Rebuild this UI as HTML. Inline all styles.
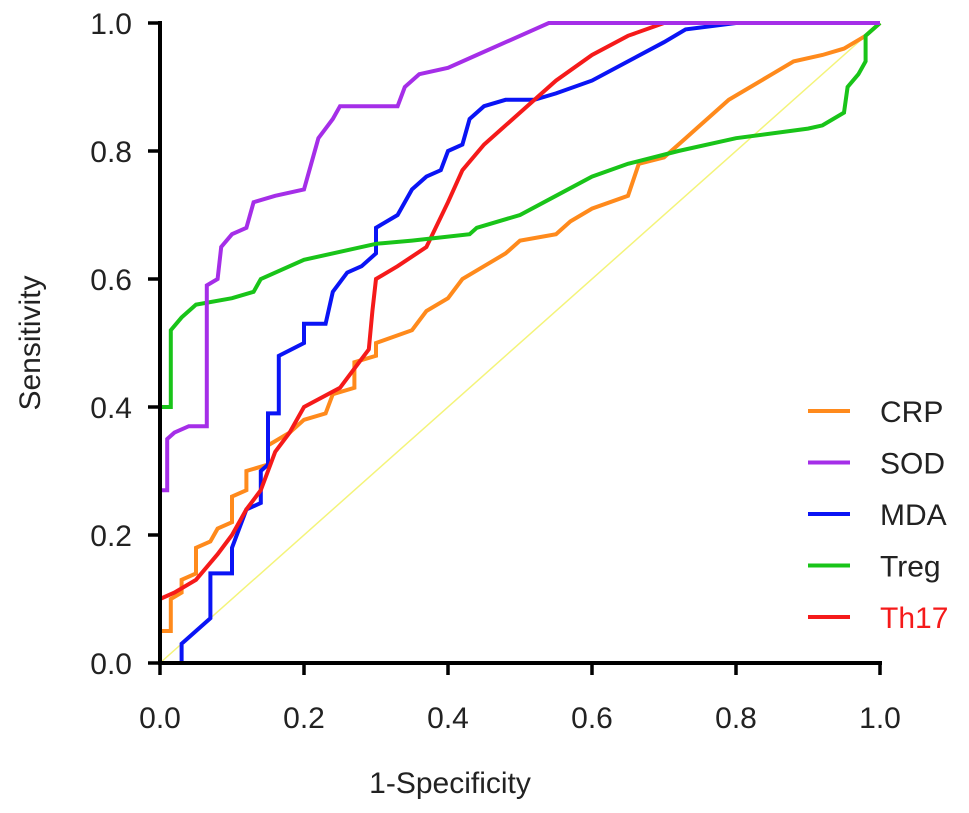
<!DOCTYPE html>
<html><head><meta charset="utf-8"><style>
html,body{margin:0;padding:0;background:#fff;}
svg{display:block;font-family:"Liberation Sans",Arial,sans-serif;}
</style></head><body>
<svg id="chart" width="969" height="813" viewBox="0 0 969 813"></svg>
<script>
const xTicks=[0,0.2,0.4,0.6,0.8,1.0];
const yTicks=[0,0.2,0.4,0.6,0.8,1.0];
const tickLabels=["0.0","0.2","0.4","0.6","0.8","1.0"];
const seriesNames=["CRP","SOD","MDA","Treg","Th17"];
const seriesColors=["#ff8a1c","#a52ee8","#0a14f5","#19c419","#f51a1a"];
const crpX=[0,0,0.015,0.015,0.03,0.03,0.05,0.05,0.07,0.08,0.1,0.1,0.12,0.12,0.15,0.15,0.18,0.2,0.23,0.24,0.27,0.27,0.3,0.3,0.35,0.37,0.4,0.42,0.45,0.48,0.5,0.55,0.57,0.6,0.65,0.665,0.7,0.73,0.76,0.79,0.82,0.85,0.88,0.92,0.95,0.98,1];
const crpY=[0,0.05,0.05,0.1,0.11,0.13,0.14,0.18,0.19,0.21,0.22,0.26,0.27,0.3,0.31,0.34,0.36,0.38,0.39,0.42,0.43,0.47,0.48,0.5,0.52,0.55,0.57,0.6,0.62,0.64,0.66,0.67,0.69,0.71,0.73,0.78,0.79,0.82,0.85,0.88,0.9,0.92,0.94,0.95,0.96,0.98,1];
const sodX=[0,0,0.01,0.01,0.02,0.04,0.065,0.065,0.08,0.085,0.1,0.12,0.13,0.16,0.2,0.21,0.22,0.24,0.25,0.33,0.34,0.36,0.4,0.44,0.48,0.52,0.54,1];
const sodY=[0,0.27,0.27,0.35,0.36,0.37,0.37,0.59,0.6,0.65,0.67,0.68,0.72,0.73,0.74,0.78,0.82,0.85,0.87,0.87,0.9,0.92,0.93,0.95,0.97,0.99,1,1];
const mdaX=[0,0.03,0.03,0.05,0.07,0.07,0.1,0.1,0.12,0.14,0.14,0.15,0.15,0.165,0.165,0.2,0.2,0.23,0.24,0.26,0.28,0.3,0.3,0.33,0.35,0.37,0.39,0.4,0.42,0.43,0.45,0.48,0.52,0.55,0.6,0.65,0.7,0.73,0.8,1];
const mdaY=[0,0,0.03,0.05,0.07,0.14,0.14,0.18,0.24,0.25,0.3,0.31,0.39,0.39,0.48,0.5,0.53,0.53,0.58,0.61,0.62,0.64,0.68,0.7,0.74,0.76,0.77,0.8,0.81,0.85,0.87,0.88,0.88,0.89,0.91,0.94,0.97,0.99,1,1];
const tregX=[0,0,0.015,0.015,0.03,0.05,0.1,0.13,0.14,0.2,0.3,0.35,0.43,0.44,0.5,0.55,0.6,0.65,0.72,0.8,0.9,0.92,0.95,0.955,0.97,0.98,0.98,1];
const tregY=[0,0.4,0.4,0.52,0.54,0.56,0.57,0.58,0.6,0.63,0.655,0.66,0.67,0.68,0.7,0.73,0.76,0.78,0.8,0.82,0.835,0.84,0.86,0.9,0.92,0.94,0.98,1];
const th17X=[0,0.02,0.05,0.08,0.1,0.12,0.14,0.16,0.18,0.2,0.25,0.27,0.29,0.295,0.3,0.33,0.37,0.4,0.42,0.45,0.5,0.55,0.6,0.65,0.7,1];
const th17Y=[0.1,0.11,0.13,0.17,0.2,0.24,0.27,0.33,0.36,0.4,0.43,0.46,0.49,0.55,0.6,0.62,0.65,0.72,0.77,0.81,0.86,0.91,0.95,0.98,1,1];
const seriesX=[crpX,sodX,mdaX,tregX,th17X];
const seriesY=[crpY,sodY,mdaY,tregY,th17Y];

const NS="http://www.w3.org/2000/svg";
const svg=document.getElementById('chart');
const X0=160,X1=880,Y0=663,Y1=23;
const FS=30;
const sx=v=>X0+v*(X1-X0);
const sy=v=>Y0-v*(Y0-Y1);
function mk(tag,attrs){const e=document.createElementNS(NS,tag);for(const k in attrs)e.setAttribute(k,attrs[k]);svg.appendChild(e);return e;}

const diag=mk('line',{x1:sx(0),y1:sy(0),x2:sx(1),y2:sy(1),stroke:'#f4f47a','stroke-width':1.5});



const drawOrder=[0,2,4,3,1];
drawOrder.forEach(i=>{
  const pts=seriesX[i].map((x,j)=>sx(x).toFixed(1)+','+sy(seriesY[i][j]).toFixed(1)).join(' ');
  const pl=mk('polyline',{points:pts,fill:'none',stroke:seriesColors[i],'stroke-width':4,'stroke-linejoin':'miter'});
  
  
});

const ya=mk('line',{x1:X0,y1:Y1-2,x2:X0,y2:Y0+2,stroke:'#000','stroke-width':4});


const xa=mk('line',{x1:X0-2,y1:Y0,x2:X1+2,y2:Y0,stroke:'#000','stroke-width':4});



xTicks.forEach((t,i)=>{
  const tk=mk('line',{x1:sx(t),y1:Y0,x2:sx(t),y2:Y0+12,stroke:'#000','stroke-width':3.5});
  
  
  const tl=mk('text',{x:sx(t),y:Y0+65,'text-anchor':'middle','font-size':FS,fill:'#222'});
  tl.textContent=tickLabels[i];
  
  
});
yTicks.forEach((t,i)=>{
  const tk=mk('line',{x1:X0-12,y1:sy(t),x2:X0,y2:sy(t),stroke:'#000','stroke-width':3.5});
  
  
  const tl=mk('text',{x:132,y:sy(t)+11,'text-anchor':'end','font-size':FS,fill:'#222'});
  tl.textContent=tickLabels[i];
  
  
});

const xt=mk('text',{x:450,y:793,'text-anchor':'middle','font-size':FS,fill:'#222'});
xt.textContent='1-Specificity';


const yt=mk('text',{x:0,y:0,'text-anchor':'middle','font-size':FS,fill:'#222',transform:'translate(40,343) rotate(-90)'});
yt.textContent='Sensitivity';



seriesNames.forEach((n,i)=>{
  const y=411+i*51.5;
  const ln=mk('line',{x1:808,y1:y,x2:850,y2:y,stroke:seriesColors[i],'stroke-width':4});
  
  
  const tx=mk('text',{x:880,y:y+11,'font-size':FS,fill:i===4?'#f51a1a':'#222'});
  tx.textContent=n;
  
  
});
</script>
</body></html>
